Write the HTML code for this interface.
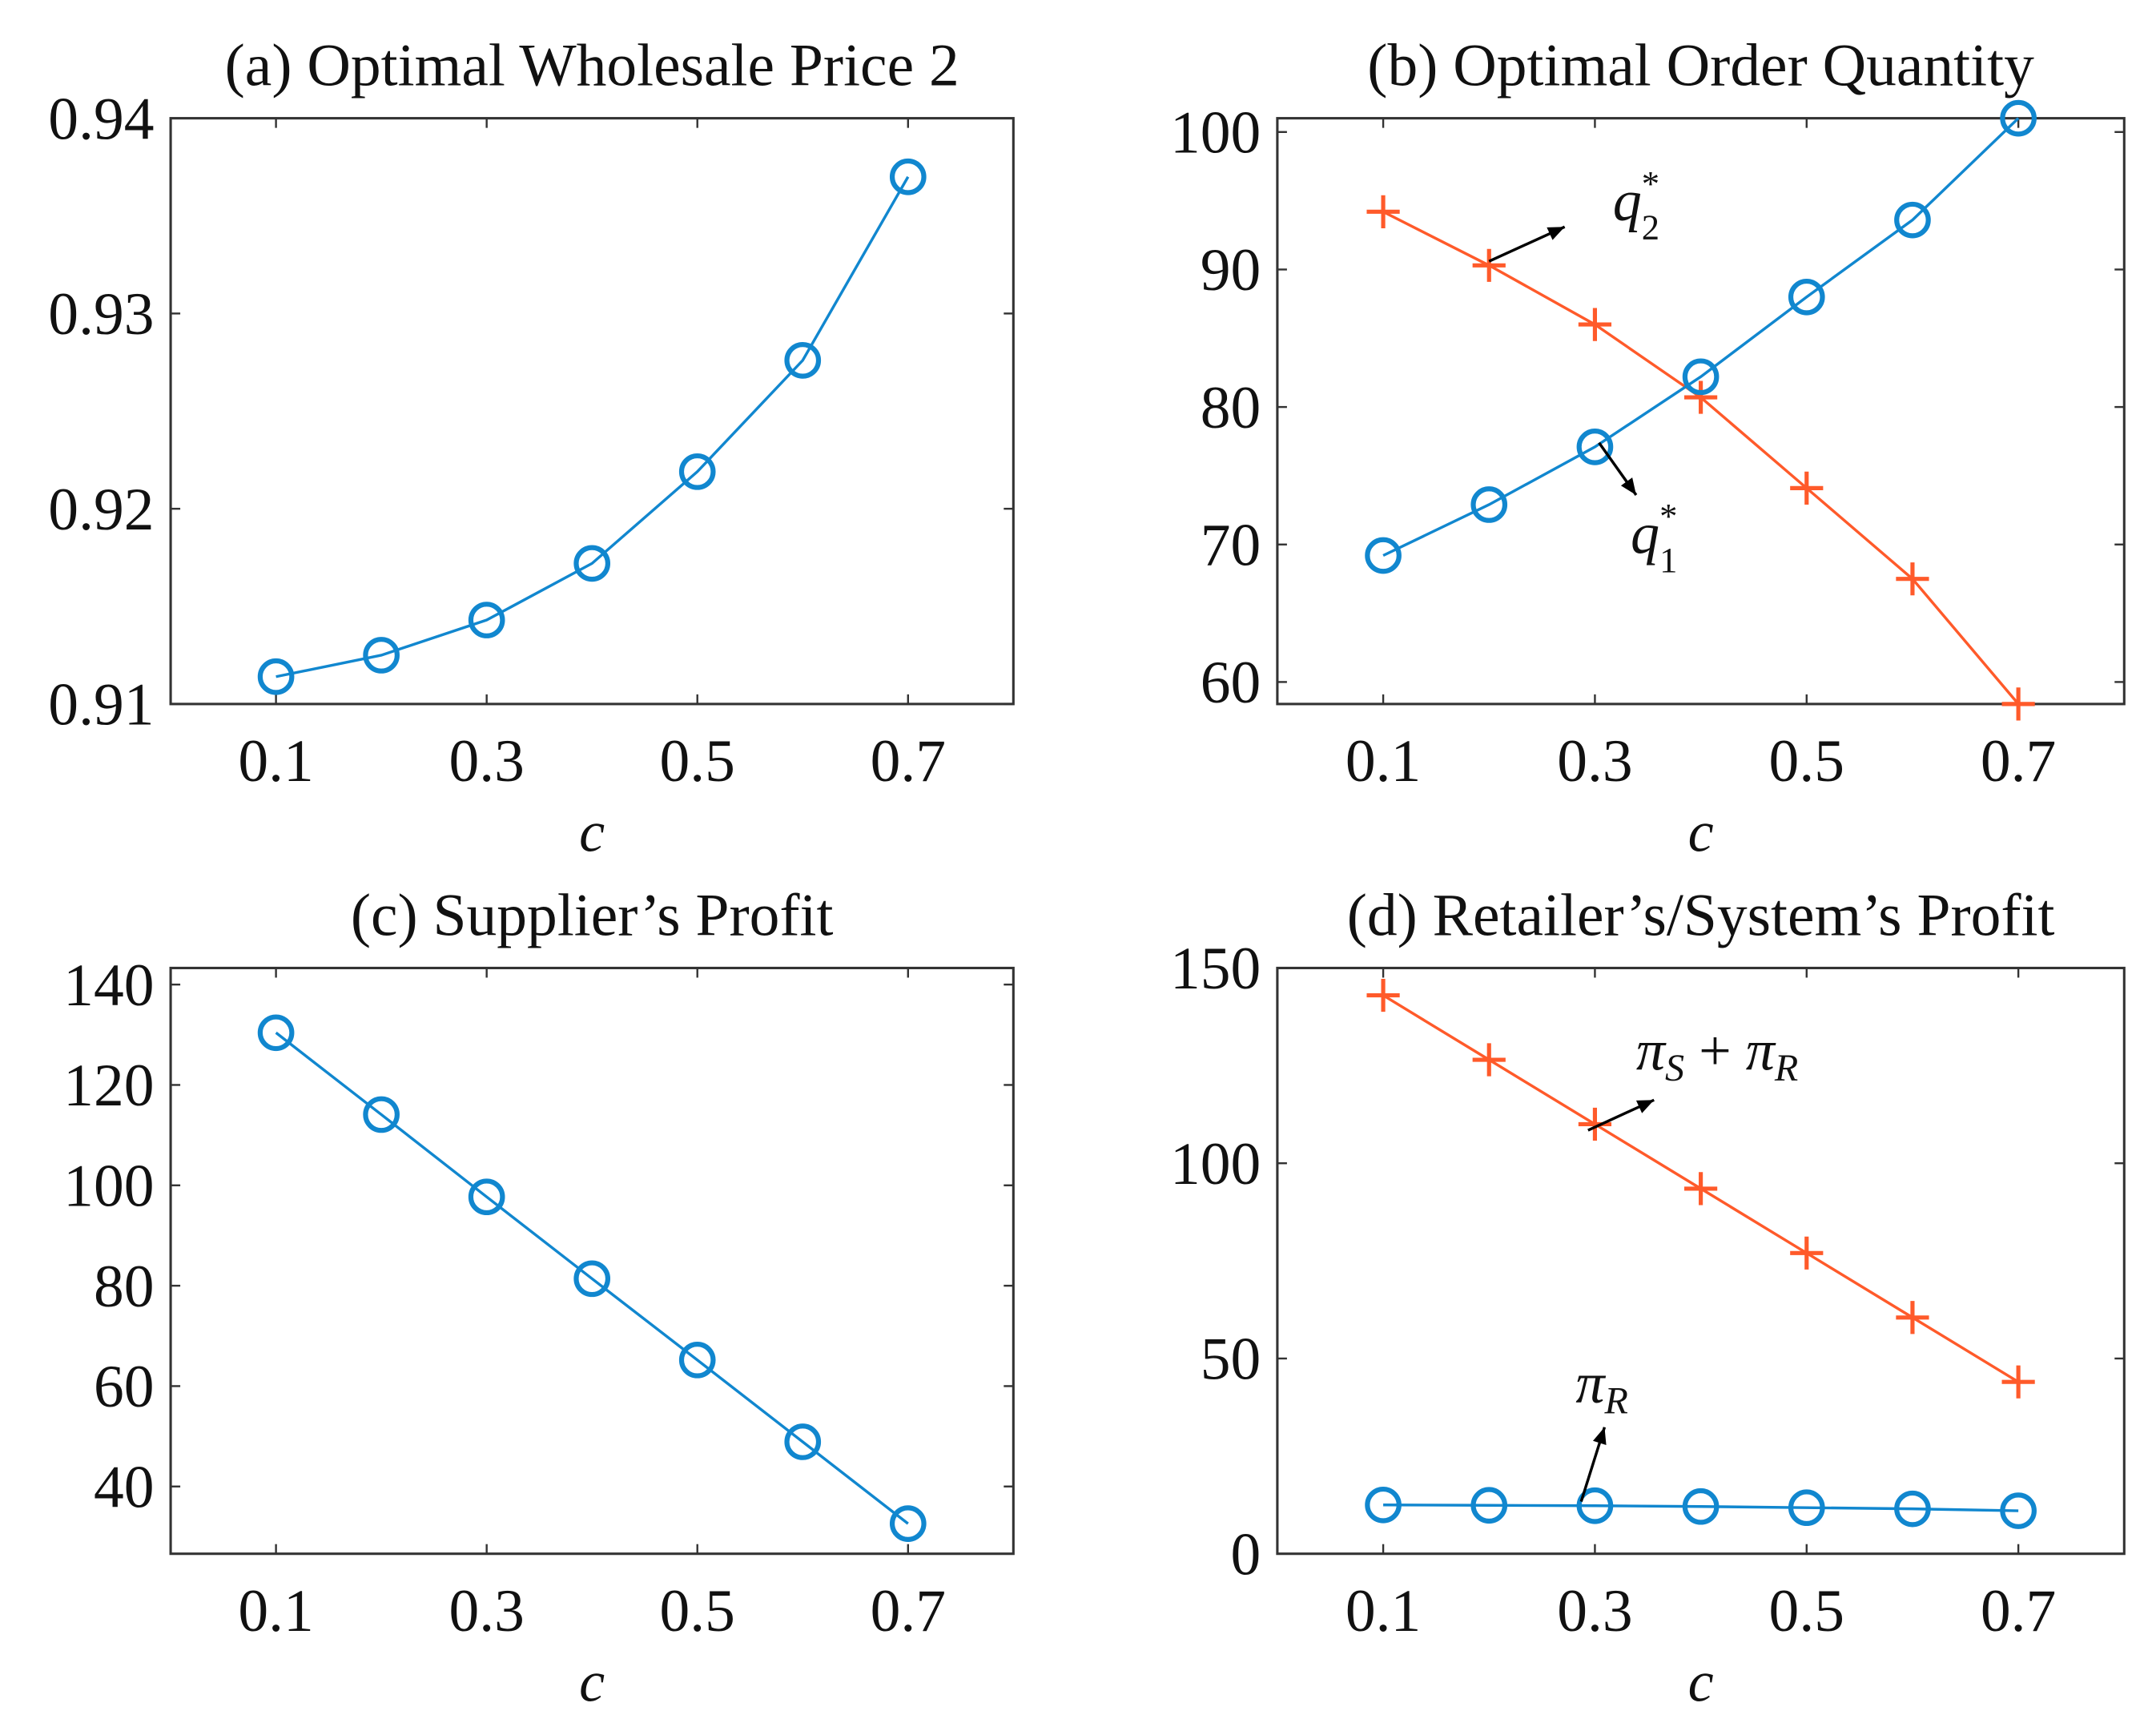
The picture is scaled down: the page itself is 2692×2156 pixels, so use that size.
<!DOCTYPE html>
<html><head><meta charset="utf-8"><style>
html,body{margin:0;padding:0;background:#fff;}
svg{display:block;}
text{font-family:"Liberation Serif",serif;fill:#111;}
</style></head><body>
<svg id="fig" xmlns="http://www.w3.org/2000/svg" width="2692" height="2156" viewBox="0 0 1568 1256">
<rect width="1568" height="1256" fill="#fff"/>
</svg>
<script>
const cats = [0.1,0.2,0.3,0.4,0.5,0.6,0.7];
const xTicks = [0.1,0.3,0.5,0.7];
const priceA = [0.9114,0.9125,0.9143,0.9172,0.9219,0.9276,0.9370];
const q1B = [69.2,72.9,77.1,82.2,88.0,93.6,101.0];
const q2B = [94.2,90.3,86.0,80.7,74.1,67.5,58.4];
const supplierC = [130.4,114.1,97.7,81.4,65.2,48.9,32.6];
const systemD = [143,126.5,110,93.5,77,60.5,44];
const retailerD = [12.5,12.4,12.3,12.1,11.8,11.5,11.0];
const yTicksA = [0.91,0.92,0.93,0.94];
const yTicksB = [60,70,80,90,100];
const yTicksC = [40,60,80,100,120,140];
const yTicksD = [0,50,100,150];

const NS='http://www.w3.org/2000/svg';
const svg=document.getElementById('fig');
const BLUE='#1187cf', ORANGE='#ff5a2a';
function el(tag,attrs,parent){const e=document.createElementNS(NS,tag);for(const k in attrs)e.setAttribute(k,attrs[k]);(parent||svg).appendChild(e);return e;}

function panel(name,box,ylim,yTicks,yFmt,title){
  const g=el('g',{});
  
  
  const sx=v=>box.l+(v-0)/(0.8-0)*(box.r-box.l);
  const sy=v=>box.b-(v-ylim[0])/(ylim[1]-ylim[0])*(box.b-box.t);
  const fr=el('rect',{x:box.l,y:box.t,width:box.r-box.l,height:box.b-box.t,fill:'none',stroke:'#333','stroke-width':1.8},g);
  
  
  xTicks.forEach(v=>{
    const x=sx(v);
    el('line',{x1:x,y1:box.b,x2:x,y2:box.b-7,stroke:'#333','stroke-width':1.4},g);
    el('line',{x1:x,y1:box.t,x2:x,y2:box.t+7,stroke:'#333','stroke-width':1.4},g);
    const t=el('text',{x:x,y:box.b+56,'text-anchor':'middle','font-size':44},g);
    t.textContent=v.toFixed(1);
    
    
  });
  yTicks.forEach(v=>{
    const y=sy(v);
    el('line',{x1:box.l,y1:y,x2:box.l+7,y2:y,stroke:'#333','stroke-width':1.4},g);
    el('line',{x1:box.r,y1:y,x2:box.r-7,y2:y,stroke:'#333','stroke-width':1.4},g);
    const t=el('text',{x:box.l-12,y:y+15,'text-anchor':'end','font-size':44},g);
    t.textContent=yFmt(v);
    
    
  });
  const tt=el('text',{x:(box.l+box.r)/2,y:box.t-24,'text-anchor':'middle','font-size':44},g);
  tt.textContent=title;
  
  
  const xl=el('text',{x:(box.l+box.r)/2,y:box.b+107,'text-anchor':'middle','font-size':42,'font-style':'italic'},g);
  xl.textContent='c';
  
  
  return {g,sx,sy};
}
function series(p,vals,color,marker,name){
  const pts=vals.map((v,i)=>[p.sx(cats[i]),p.sy(v)]);
  const pl=el('polyline',{points:pts.map(q=>q.join(',')).join(' '),fill:'none',stroke:color,'stroke-width':2},p.g);
  
  
  pts.forEach(q=>{
    let m;
    if(marker==='o'){m=el('circle',{cx:q[0],cy:q[1],r:11.5,fill:'none',stroke:color,'stroke-width':3.6},p.g);}
    else{m=el('path',{d:`M${q[0]-12},${q[1]}H${q[0]+12}M${q[0]},${q[1]-12}V${q[1]+12}`,stroke:color,'stroke-width':3,fill:'none'},p.g);}
    
    
  });
}
function arrow(g,x1,y1,x2,y2){
  el('line',{x1,y1,x2,y2,stroke:'#000','stroke-width':2},g);
  const a=Math.atan2(y2-y1,x2-x1),L=13,w=0.4;
  el('polygon',{points:`${x2},${y2} ${x2-L*Math.cos(a-w)},${y2-L*Math.sin(a-w)} ${x2-L*Math.cos(a+w)},${y2-L*Math.sin(a+w)}`,fill:'#000'},g);
}
function label(g,x,y,main,sub,sup,name){
  const t=el('text',{x,y,'font-size':42,'font-style':'italic'},g);
  
  
  t.innerHTML=main+(sup?`<tspan font-size="26" dy="-18" font-style="normal">${sup}</tspan><tspan font-size="26" dy="32" dx="-13" font-style="normal">${sub}</tspan>`:`<tspan font-size="28" dy="8">${sub}</tspan>`);
  return t;
}

const A=panel('panel-a-wholesale-price',{l:124,r:737,t:86,b:512},[0.91,0.94],yTicksA,v=>v.toFixed(2),'(a) Optimal Wholesale Price 2');
series(A,priceA,BLUE,'o','wholesale-price');

const B=panel('panel-b-order-quantity',{l:929,r:1545,t:86,b:512},[58.4,101],yTicksB,v=>String(v),'(b) Optimal Order Quantity');
series(B,q2B,ORANGE,'+','q2');
series(B,q1B,BLUE,'o','q1');
arrow(B.g,1083,190,1138,165);
arrow(B.g,1163,322,1190,360);
label(B.g,1173,160,'q','2','*','q2-label');
label(B.g,1186,402,'q','1','*','q1-label');

const C=panel('panel-c-supplier-profit',{l:124,r:737,t:704,b:1130},[26.6,143.3],yTicksC,v=>String(v),"(c) Supplier’s Profit");
series(C,supplierC,BLUE,'o','supplier-profit');

const D=panel('panel-d-retailer-system-profit',{l:929,r:1545,t:704,b:1130},[0,150],yTicksD,v=>String(v),"(d) Retailer’s/System’s Profit");
series(D,systemD,ORANGE,'+','system-profit');
series(D,retailerD,BLUE,'o','retailer-profit');
arrow(D.g,1155,822,1203,800);
arrow(D.g,1150,1092,1167,1038);
const ls=el('text',{x:1190,y:778,'font-size':42,'font-style':'italic'},D.g);


ls.innerHTML='π<tspan font-size="28" dy="8">S</tspan><tspan dy="-8" font-style="normal"> + </tspan>π<tspan font-size="28" dy="8">R</tspan>';
label(D.g,1146,1020,'π','R',null,'retailer-profit-label');
</script>
</body></html>
